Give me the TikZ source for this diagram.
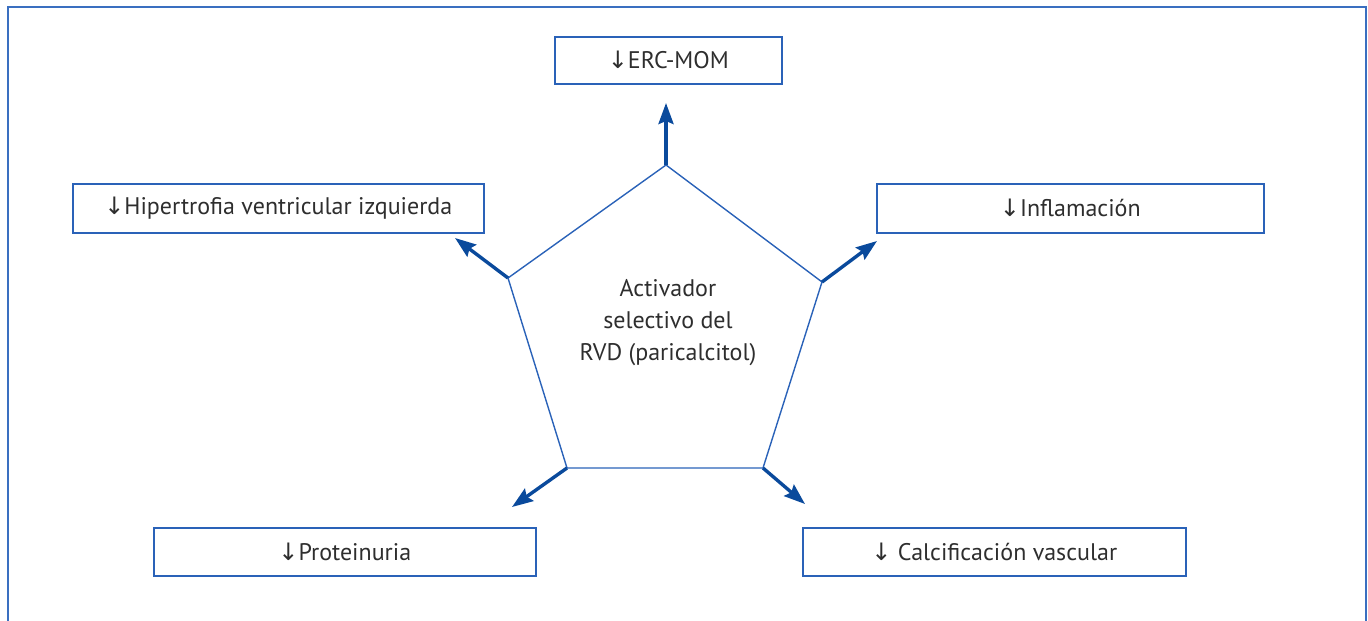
\documentclass[tikz,border=0pt]{standalone}
\usepackage{fontspec}
\setmainfont{PT Sans}
\newfontfamily\arrowfont{DejaVu Sans}
\usetikzlibrary{arrows.meta}
\definecolor{framec}{HTML}{3A6FC0}
\definecolor{boxc}{HTML}{2A62B8}
\definecolor{arrc}{HTML}{0A4A9C}
\definecolor{txt}{HTML}{2E2E2E}
\newcommand{\dn}{{\arrowfont\char"2193}}
\begin{document}
\begin{tikzpicture}[x=1pt,y=-1pt,
  lbl/.style={draw=boxc, line width=1.6pt, text=txt, font=\fontsize{24}{28}\selectfont, inner sep=0pt, anchor=north west},
  pent/.style={draw=boxc, line width=1.4pt},
  arr/.style={draw=arrc, line width=3.4pt, -{Stealth[length=21pt,width=15pt,inset=3pt]}}]
\useasboundingbox (0,0) rectangle (1368,621);
\draw[framec, line width=2.5pt] (8,640) -- (8,7) -- (1366,7) -- (1366,640);
% boxes
\node[lbl, minimum width=227pt, minimum height=47pt] (erc) at (554,36) {\raisebox{2pt}{\dn ERC-MOM}};
\node[lbl, minimum width=411pt, minimum height=49pt] (hvi) at (72,183) {\dn Hipertrofia ventricular izquierda};
\node[lbl, minimum width=387pt, minimum height=49pt] (inf) at (876,183) {\dn Inflamación};
\node[lbl, minimum width=382pt, minimum height=48pt] (pro) at (153,527) {\dn Proteinuria};
\node[lbl, minimum width=383pt, minimum height=48pt] (cal) at (802,527) {\dn\ Calcificación vascular};
% pentagon
\coordinate (pt) at (666,165);
\coordinate (pul) at (508,278);
\coordinate (pur) at (822,282);
\coordinate (pll) at (567,468);
\coordinate (plr) at (763,468);
\draw[pent, line join=miter] (pt) -- (pur) -- (plr) -- (pll) -- (pul) -- cycle;
\node[text=txt, font=\fontsize{24}{32}\selectfont, align=center] (center) at (668,323) {Activador\\selectivo del\\RVD (paricalcitol)};
% arrows
\coordinate (et) at (666,103);
\coordinate (eul) at (455,238);
\coordinate (eur) at (877,241);
\coordinate (ell) at (512,507);
\coordinate (elr) at (805,504);
\draw[arr] (pt) -- (et);
\draw[arr] (pul) -- (eul);
\draw[arr] (pur) -- (eur);
\draw[arr] (pll) -- (ell);
\draw[arr] (plr) -- (elr);
\end{tikzpicture}
\end{document}
